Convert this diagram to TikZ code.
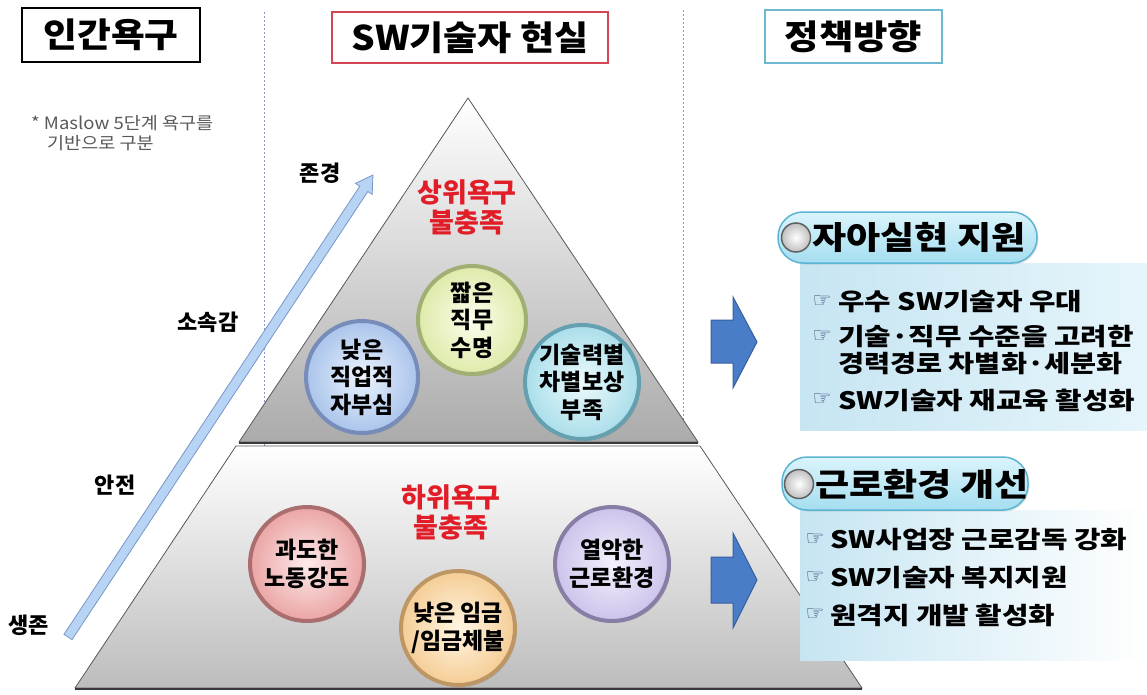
\documentclass[tikz,border=0pt]{standalone}
\usepackage{fontspec}
\usepackage{graphicx}
\newfontfamily\kr{Noto Sans CJK KR}
\newfontfamily\sym{DejaVu Sans}
\newcommand{\sxw}[2]{\scalebox{#1}[1]{#2}}
\usetikzlibrary{shadows}
\definecolor{divc}{RGB}{140,150,200}
\definecolor{redb}{RGB}{210,70,85}
\definecolor{cyanb}{RGB}{110,185,210}
\definecolor{needred}{RGB}{225,30,40}
\definecolor{arrfill}{RGB}{184,212,244}
\definecolor{arrdraw}{RGB}{120,150,200}
\definecolor{blkfill}{RGB}{74,125,200}
\definecolor{blkdraw}{RGB}{55,95,160}
\definecolor{panelL}{RGB}{198,229,242}
\definecolor{panelR}{RGB}{230,245,251}
\definecolor{pillT}{RGB}{218,244,251}
\definecolor{pillB}{RGB}{165,222,240}
\definecolor{pillD}{RGB}{90,180,210}
\definecolor{handc}{RGB}{60,70,120}
\definecolor{b1i}{RGB}{235,243,253}\definecolor{b1o}{RGB}{170,196,235}\definecolor{b1r}{RGB}{120,140,185}
\definecolor{b2i}{RGB}{253,254,236}\definecolor{b2o}{RGB}{222,234,170}\definecolor{b2r}{RGB}{160,175,115}
\definecolor{b3i}{RGB}{236,250,252}\definecolor{b3o}{RGB}{170,222,234}\definecolor{b3r}{RGB}{100,160,175}
\definecolor{b4i}{RGB}{253,234,234}\definecolor{b4o}{RGB}{235,165,165}\definecolor{b4r}{RGB}{170,110,110}
\definecolor{b5i}{RGB}{255,246,226}\definecolor{b5o}{RGB}{245,205,150}\definecolor{b5r}{RGB}{190,150,100}
\definecolor{b6i}{RGB}{244,241,252}\definecolor{b6o}{RGB}{205,195,235}\definecolor{b6r}{RGB}{135,125,165}
\begin{document}
\begin{tikzpicture}[x=1pt,y=-1pt,
  divider/.style={divc, line width=0.9pt, dash pattern=on 2pt off 2pt},
  titlebox/.style={rectangle, fill=white, inner sep=0pt, font=\kr\bfseries\fontsize{34}{38}\selectfont},
  lvl/.style={font=\kr\bfseries\fontsize{22}{26}\selectfont, inner sep=0pt},
  need/.style={font=\kr\bfseries\fontsize{27}{30}\selectfont, text=needred, align=center, inner sep=0pt},
  ball/.style n args={4}{circle, minimum size=#1, inner sep=0pt, inner color=#2, outer color=#3, draw=#4, line width=4pt,
     drop shadow={opacity=0.3, shadow xshift=2pt, shadow yshift=-2pt},
     font=\kr\bfseries\fontsize{23}{27.5}\selectfont, align=center},
  pill/.style={rectangle, rounded corners=25pt, top color=pillT, bottom color=pillB, draw=pillD, line width=1.5pt, inner sep=0pt,
     drop shadow={opacity=0.2, shadow xshift=1.5pt, shadow yshift=-1.5pt}},
  icon/.style={circle, minimum size=29pt, inner sep=0pt, inner color=white, outer color=gray!50, draw=gray!75!black, line width=1.5pt},
  head/.style={anchor=west, font=\kr\bfseries\fontsize{32}{36}\selectfont, inner sep=0pt},
  body/.style={anchor=west, font=\kr\bfseries\fontsize{24}{28}\selectfont, inner sep=0pt},
  note/.style={anchor=west, inner sep=0pt, font=\kr\fontsize{17}{20}\selectfont, text=gray!70!black},
  hand/.style={font=\sym\bfseries\fontsize{21}{22}\selectfont, text=handc, inner sep=0pt},
  blk/.style={fill=blkfill, draw=blkdraw, line width=1pt}
]
\useasboundingbox (0,0) rectangle (1147,695);
\fill[white] (0,0) rectangle (1147,695);

% dividers
\coordinate (d1t) at (264,12); \coordinate (d1b) at (264,690);
\coordinate (d2t) at (683,10); \coordinate (d2b) at (683,690);
\draw[divider] (d1t) -- (d1b);
\draw[divider] (d2t) -- (d2b);

% titles
\node[titlebox, draw=black, line width=2.5pt, minimum width=178pt, minimum height=54pt] (t1) at (111,35) {\sxw{1.08}{인간욕구}};
\node[titlebox, draw=redb, line width=2pt, minimum width=276pt, minimum height=51pt] (t2) at (470,37.5) {\sxw{1.09}{SW기술자 현실}};
\node[titlebox, draw=cyanb, line width=2pt, minimum width=177pt, minimum height=53pt] (t3) at (853.5,36.5) {\sxw{1.1}{정책방향}};

% note
\node[note] (n1) at (31,123) {\sxw{1.09}{* Maslow 5단계 욕구를}};
\node[note] (n2) at (47,143) {\sxw{1.09}{기반으로 구분}};

% pyramid
\shade[top color=white, bottom color=gray!52, draw=gray!70!black, line width=0.8pt]
  (236,446) -- (700,446) -- (862,688) -- (75,688) -- cycle;
\draw[gray!45!black, line width=2pt] (75,688.5) -- (862,688.5);
\shade[top color=white, bottom color=gray!66, draw=gray!70!black, line width=0.8pt]
  (468,98) -- (698,442) -- (239,442) -- cycle;
\draw[gray!45!black, line width=2pt] (239,442.5) -- (698,442.5);

% rising arrow
\coordinate (arrS) at (68,637);
\coordinate (arrE) at (373,175);
\begin{scope}[shift={(arrS)}, rotate=56.57]
  \filldraw[fill=arrfill, draw=arrdraw, line width=0.8pt]
    (0,-4.8) -- (537,-4.8) -- (537,-10) -- (553.6,0) -- (537,10) -- (537,4.8) -- (0,4.8) -- cycle;
\end{scope}

% level labels
\node[lvl] (lv1) at (320,173) {존경};
\node[lvl] (lv2) at (208,322) {소속감};
\node[lvl] (lv3) at (115,485) {안전};
\node[lvl] (lv4) at (29,625) {생존};

% need labels
\node[need] (up) at (467,207) {상위욕구\\불충족};
\node[need] (low) at (451,512) {하위욕구\\불충족};

% balls
\node[ball={112pt}{b1i}{b1o}{b1r}] (c1) at (362,377) {낮은\\직업적\\자부심};
\node[ball={108pt}{b2i}{b2o}{b2r}] (c2) at (472,320) {짧은\\직무\\수명};
\node[ball={110pt}{b3i}{b3o}{b3r}] (c3) at (582,382) {기술력별\\차별보상\\부족};
\node[ball={114pt}{b4i}{b4o}{b4r}] (c4) at (307,564) {과도한\\노동강도};
\node[ball={114pt}{b5i}{b5o}{b5r}] (c5) at (458,628) {낮은 임금\\/임금체불};
\node[ball={114pt}{b6i}{b6o}{b6r}] (c6) at (612,564) {열악한\\근로환경};

% block arrows
\filldraw[blk] (711,320) -- (733,320) -- (733,297) -- (757,342) -- (733,388) -- (733,363) -- (711,363) -- cycle;
\filldraw[blk] (711,557) -- (733,557) -- (733,533) -- (757,580) -- (733,628) -- (733,603) -- (711,603) -- cycle;

% panel 1
\shade[left color=panelL, right color=panelR] (800,263) rectangle (1147,430);
\node[pill, minimum width=259pt, minimum height=51pt] (h1) at (907.5,237.5) {};
\node[icon] (i1) at (796,237.5) {};
\node[head] (h1t) at (812,237.5) {\sxw{1.16}{자아실현 지원}};
\node[hand] (p1h1) at (822,302) {☞};
\node[body] (p1a) at (838,302) {\sxw{1.2}{우수 SW기술자 우대}};
\node[hand] (p1h2) at (822,337) {☞};
\node[body] (p1b) at (838,337) {\sxw{1.2}{기술·직무 수준을 고려한}};
\node[body] (p1c) at (838,364) {\sxw{1.18}{경력경로 차별화·세분화}};
\node[hand] (p1h3) at (822,400) {☞};
\node[body] (p1d) at (838,400) {\sxw{1.2}{SW기술자 재교육 활성화}};

% panel 2
\shade[left color=panelL, right color=white] (800,510) rectangle (1147,660);
\node[pill, minimum width=246pt, minimum height=53pt] (h2) at (905,483.5) {};
\node[icon] (i2) at (799,484) {};
\node[head] (h2t) at (815,484) {\sxw{1.16}{근로환경 개선}};
\node[hand] (p2h1) at (815,540) {☞};
\node[body] (p2a) at (830,540) {\sxw{1.2}{SW사업장 근로감독 강화}};
\node[hand] (p2h2) at (815,578) {☞};
\node[body] (p2b) at (830,578) {\sxw{1.2}{SW기술자 복지지원}};
\node[hand] (p2h3) at (815,615) {☞};
\node[body] (p2c) at (830,615) {\sxw{1.2}{원격지 개발 활성화}};
\end{tikzpicture}
\end{document}
